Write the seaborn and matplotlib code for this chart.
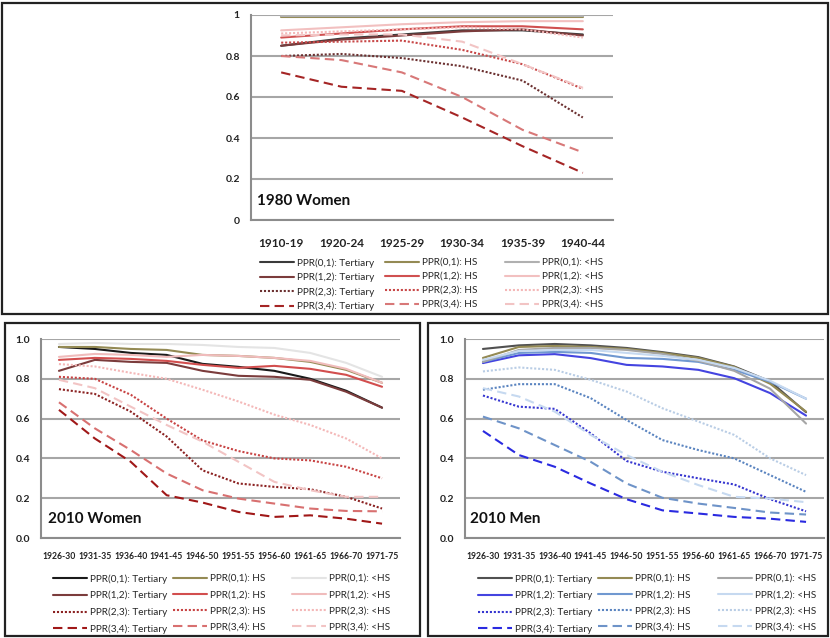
import numpy as np
import pandas as pd
import matplotlib
matplotlib.use("Agg")
import matplotlib.pyplot as plt
import seaborn as sns
from matplotlib.lines import Line2D
from matplotlib.patches import Rectangle

sns.set_theme(style="white")
plt.rcParams['font.family'] = ['Lato', 'DejaVu Sans']

# ---------------- data ----------------
cohorts_1980 = ["1910-19", "1920-24", "1925-29", "1930-34", "1935-39", "1940-44"]
cohorts_2010 = ["1926-30", "1931-35", "1936-40", "1941-45", "1946-50",
                "1951-55", "1956-60", "1961-65", "1966-70", "1971-75"]
ppr_labels = ["PPR(0,1)", "PPR(1,2)", "PPR(2,3)", "PPR(3,4)"]
edu_labels = ["Tertiary", "HS", "<HS"]
y_ticks_top = ["0", "0.2", "0.4", "0.6", "0.8", "1"]
y_ticks_bottom = ["0.0", "0.2", "0.4", "0.6", "0.8", "1.0"]
panel_titles = ["1980 Women", "2010 Women", "2010 Men"]

# 1980 Women
w80_tert_01 = [0.85, 0.885, 0.905, 0.925, 0.925, 0.905]
w80_tert_12 = [0.85, 0.88, 0.90, 0.92, 0.93, 0.90]
w80_tert_23 = [0.80, 0.81, 0.79, 0.75, 0.68, 0.50]
w80_tert_34 = [0.72, 0.65, 0.63, 0.50, 0.36, 0.23]
w80_hs_01 = [0.99, 0.99, 0.99, 0.99, 0.99, 0.99]
w80_hs_12 = [0.89, 0.91, 0.93, 0.945, 0.945, 0.93]
w80_hs_23 = [0.865, 0.87, 0.875, 0.83, 0.76, 0.64]
w80_hs_34 = [0.80, 0.78, 0.72, 0.60, 0.44, 0.33]
w80_lhs_01 = [0.995, 0.995, 0.995, 0.995, 0.995, 0.995]
w80_lhs_12 = [0.925, 0.94, 0.955, 0.965, 0.97, 0.97]
w80_lhs_23 = [0.91, 0.92, 0.93, 0.94, 0.93, 0.89]
w80_lhs_34 = [0.90, 0.905, 0.905, 0.87, 0.76, 0.645]

# 2010 Women
w10_tert_01 = [0.96, 0.95, 0.93, 0.92, 0.875, 0.86, 0.84, 0.80, 0.74, 0.655]
w10_tert_12 = [0.84, 0.895, 0.885, 0.88, 0.84, 0.815, 0.81, 0.795, 0.735, 0.655]
w10_tert_23 = [0.748, 0.724, 0.635, 0.51, 0.34, 0.274, 0.257, 0.245, 0.207, 0.148]
w10_tert_34 = [0.644, 0.50, 0.383, 0.215, 0.178, 0.131, 0.106, 0.114, 0.097, 0.072]
w10_hs_01 = [0.96, 0.96, 0.95, 0.945, 0.92, 0.915, 0.905, 0.885, 0.845, 0.78]
w10_hs_12 = [0.895, 0.905, 0.90, 0.89, 0.87, 0.855, 0.865, 0.85, 0.82, 0.76]
w10_hs_23 = [0.81, 0.80, 0.72, 0.60, 0.49, 0.437, 0.40, 0.39, 0.358, 0.30]
w10_hs_34 = [0.682, 0.551, 0.442, 0.324, 0.24, 0.198, 0.173, 0.148, 0.136, 0.134]
w10_lhs_01 = [0.975, 0.98, 0.975, 0.975, 0.97, 0.96, 0.955, 0.93, 0.88, 0.81]
w10_lhs_12 = [0.91, 0.925, 0.92, 0.91, 0.92, 0.915, 0.905, 0.89, 0.85, 0.78]
w10_lhs_23 = [0.874, 0.862, 0.83, 0.80, 0.745, 0.686, 0.62, 0.568, 0.50, 0.40]
w10_lhs_34 = [0.795, 0.753, 0.66, 0.568, 0.484, 0.383, 0.282, 0.24, 0.207, 0.207]

# 2010 Men
m10_tert_01 = [0.95, 0.968, 0.975, 0.968, 0.955, 0.934, 0.909, 0.862, 0.787, 0.632]
m10_tert_12 = [0.879, 0.918, 0.924, 0.904, 0.87, 0.862, 0.845, 0.803, 0.728, 0.615]
m10_tert_23 = [0.716, 0.66, 0.649, 0.526, 0.387, 0.333, 0.30, 0.269, 0.195, 0.134]
m10_tert_34 = [0.538, 0.417, 0.358, 0.274, 0.195, 0.139, 0.123, 0.106, 0.097, 0.081]
m10_hs_01 = [0.905, 0.96, 0.965, 0.96, 0.95, 0.93, 0.905, 0.86, 0.775, 0.635]
m10_hs_12 = [0.885, 0.93, 0.935, 0.93, 0.905, 0.90, 0.885, 0.845, 0.785, 0.70]
m10_hs_23 = [0.745, 0.773, 0.773, 0.703, 0.593, 0.492, 0.442, 0.40, 0.316, 0.232]
m10_hs_34 = [0.61, 0.551, 0.467, 0.383, 0.274, 0.202, 0.173, 0.151, 0.128, 0.118]
m10_lhs_01 = [0.885, 0.945, 0.955, 0.955, 0.945, 0.925, 0.89, 0.84, 0.75, 0.575]
m10_lhs_12 = [0.895, 0.94, 0.945, 0.945, 0.93, 0.915, 0.895, 0.855, 0.79, 0.70]
m10_lhs_23 = [0.837, 0.857, 0.845, 0.795, 0.736, 0.652, 0.585, 0.518, 0.40, 0.316]
m10_lhs_34 = [0.753, 0.711, 0.635, 0.518, 0.417, 0.333, 0.266, 0.207, 0.198, 0.18]

# ---------------- styles ----------------
line_styles = ["", "", (1, 0.9), (4.5, 2.5)]

colors_w80 = ["#3a3a3a", "#7b3c3c", "#6b3030", "#a52525",
              "#948a54", "#d05050", "#c84848", "#d87878",
              "#b0b0b0", "#f2c0c0", "#f4b8b8", "#f2c4c4"]
colors_w10 = ["#1a1a1a", "#7b3c3c", "#8b2222", "#a01818",
              "#948a54", "#d24e4e", "#c84444", "#d87070",
              "#e4e4e4", "#f0bcbc", "#f4b8b8", "#f2c4c4"]
colors_m10 = ["#505050", "#4444e0", "#3636d0", "#2a2ae0",
              "#948a54", "#7098d0", "#5a84c0", "#6e93c8",
              "#a6a6a6", "#c6d9f0", "#b9cde5", "#c6d9f0"]

panels = [
    (cohorts_1980, [w80_tert_01, w80_tert_12, w80_tert_23, w80_tert_34,
                    w80_hs_01, w80_hs_12, w80_hs_23, w80_hs_34,
                    w80_lhs_01, w80_lhs_12, w80_lhs_23, w80_lhs_34], colors_w80),
    (cohorts_2010, [w10_tert_01, w10_tert_12, w10_tert_23, w10_tert_34,
                    w10_hs_01, w10_hs_12, w10_hs_23, w10_hs_34,
                    w10_lhs_01, w10_lhs_12, w10_lhs_23, w10_lhs_34], colors_w10),
    (cohorts_2010, [m10_tert_01, m10_tert_12, m10_tert_23, m10_tert_34,
                    m10_hs_01, m10_hs_12, m10_hs_23, m10_hs_34,
                    m10_lhs_01, m10_lhs_12, m10_lhs_23, m10_lhs_34], colors_m10),
]

W, H = 830, 638
fig = plt.figure(figsize=(W / 100, H / 100), dpi=100)


def fx(px):
    return px / W


def fy(py):
    return 1 - py / H


# axes rectangles in pixel coords (left, top, right, bottom)
ax_boxes = [(251, 15, 613, 220), (41, 339, 400, 538), (465, 339, 824, 538)]
legend_cols = [
    ([260, 385, 505], 258, 0.5, 7.2),
    ([53, 173, 292], 574, 0.72, 7.2),
    ([478, 598, 718], 574, 0.72, 7.2),
]
title_pos = [(257, 201, 11), (48, 519, 11), (470, 519, 11)]
xtick_size = [8.5, 6.2, 6.2]
ytick_labels = [y_ticks_top, y_ticks_bottom, y_ticks_bottom]

series_names = [f"{p}: {e}" for e in edu_labels for p in ppr_labels]

for i, (cohorts, values, colors) in enumerate(panels):
    l, t, r, b = ax_boxes[i]
    ax = fig.add_axes([fx(l), fy(b), fx(r) - fx(l), fy(t) - fy(b)])
    rows = []
    for name, vals in zip(series_names, values):
        for c, v in zip(cohorts, vals):
            rows.append({"cohort": c, "value": v, "series": name})
    df = pd.DataFrame(rows)
    palette = dict(zip(series_names, colors))
    dashes = {name: line_styles[k % 4] for k, name in enumerate(series_names)}
    sns.lineplot(data=df, x="cohort", y="value", hue="series", style="series",
                 hue_order=series_names, style_order=series_names,
                 palette=palette, dashes=dashes, linewidth=1.5,
                 legend=False, ax=ax, sort=False)
    n = len(cohorts)
    ax.set_xlim(-0.5, n - 0.5)
    ax.set_ylim(0, 1)
    ax.set_xlabel("")
    ax.set_ylabel("")
    ax.set_yticks(np.linspace(0, 1, 6))
    ax.set_yticklabels(ytick_labels[i], fontsize=7.5, fontweight="bold", color="#222222")
    ax.set_xticks(range(n))
    ax.set_xticklabels(cohorts, fontsize=xtick_size[i], fontweight="bold", color="#222222")
    ax.set_xticks(np.arange(-0.5, n, 1.0), minor=True)
    ax.tick_params(axis="x", which="major", length=0, pad=13 if i == 0 else 10)
    ax.tick_params(axis="x", which="minor", length=4, direction="out", color="#8c8c8c", width=1.2)
    ax.tick_params(axis="y", which="major", length=4, direction="out", color="#8c8c8c", width=1.2, pad=4)
    ax.yaxis.grid(True, color="#a6a6a6", linewidth=1.5)
    ax.xaxis.grid(False)
    ax.set_axisbelow(True)
    for s in ["top", "right"]:
        ax.spines[s].set_visible(False)
    for s in ["left", "bottom"]:
        ax.spines[s].set_color("#8c8c8c")
        ax.spines[s].set_linewidth(1.5)
    ax.patch.set_alpha(0)
    tx, ty, ts = title_pos[i]
    fig.text(fx(tx), fy(ty), panel_titles[i], fontsize=ts, fontweight="bold",
             color="#111111", va="center", ha="left")

    # legend: three columns (Tertiary, HS, <HS)
    xs, ytop, lsp, fsz = legend_cols[i]
    for j, e in enumerate(edu_labels):
        handles, labels = [], []
        for k, p in enumerate(ppr_labels):
            idx = j * 4 + k
            ls = "-" if line_styles[k] == "" else (0, line_styles[k])
            handles.append(Line2D([], [], color=colors[idx], linewidth=1.5, linestyle=ls))
            labels.append(f"{p}: {e}")
        fig.legend(handles, labels, loc="upper left", bbox_to_anchor=(fx(xs[j]), fy(ytop)),
                   frameon=False, fontsize=fsz, handlelength=3.4, handletextpad=0.3,
                   labelspacing=lsp, borderpad=0, borderaxespad=0)

# panel frames
frames = [(2, 3, 828, 314), (5, 323, 420, 636), (428, 323, 828, 636)]
for (l, t, r, b) in frames:
    fig.patches.append(Rectangle((fx(l), fy(b)), fx(r) - fx(l), fy(t) - fy(b),
                                 transform=fig.transFigure, fill=False,
                                 edgecolor="#222222", linewidth=1.6))

fig.savefig("out.png", dpi=100)
